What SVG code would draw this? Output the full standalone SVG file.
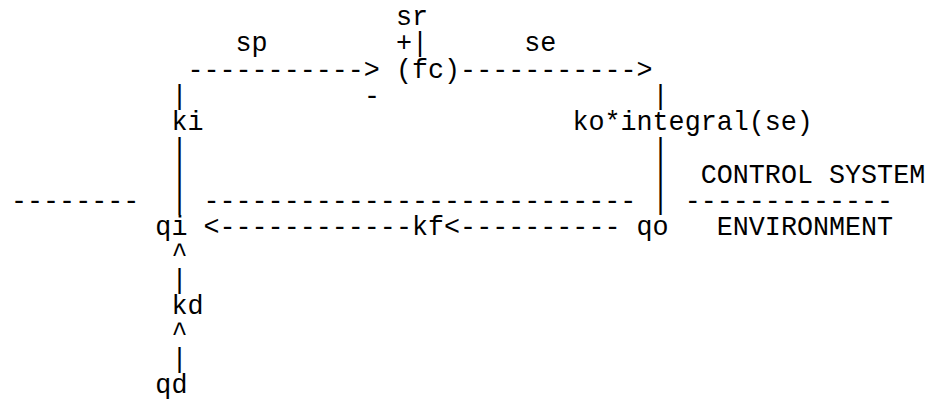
<svg xmlns="http://www.w3.org/2000/svg" width="926" height="402" viewBox="0 0 926 402">
  <style>
    text { font-family: "Liberation Mono", "Courier New", monospace; font-size: 26.73px; fill: #000; white-space: pre; }
  </style>
  <rect width="926" height="402" fill="#fff"/>

  <!-- connectors: character-drawn lines and arrows (column pitch 16.04px, row pitch 26.3px) -->
  <g id="connectors">
    <text x="395.96" y="51.3">+</text>
    <text x="412.00" y="51.3">|</text>
    <text x="187.44" y="77.6">-----------&gt;</text>
    <text x="460.12" y="77.6">-----------&gt;</text>
    <text x="171.40" y="103.9">|</text>
    <text x="363.88" y="103.9">-</text>
    <text x="652.60" y="103.9">|</text>
    <text x="171.40" y="156.5">|</text>
    <text x="652.60" y="156.5">|</text>
    <text x="171.40" y="182.8">|</text>
    <text x="652.60" y="182.8">|</text>
    <text x="11.00" y="209.1">--------</text>
    <text x="171.40" y="209.1">|</text>
    <text x="203.48" y="209.1">---------------------------</text>
    <text x="652.60" y="209.1">|</text>
    <text x="684.68" y="209.1">-------------</text>
    <text x="203.48" y="235.4">&lt;------------</text>
    <text x="444.08" y="235.4">&lt;----------</text>
    <text x="171.40" y="261.7">^</text>
    <text x="171.40" y="288.0">|</text>
    <text x="171.40" y="340.6">^</text>
    <text x="171.40" y="366.9">|</text>
  </g>

  <!-- nodes -->
  <g id="sr"><text x="395.96" y="25.0">sr</text></g>
  <g id="sp"><text x="235.56" y="51.3">sp</text></g>
  <g id="se"><text x="524.28" y="51.3">se</text></g>
  <g id="fc"><text x="395.96" y="77.6">(fc)</text></g>
  <g id="ki"><text x="171.40" y="130.2">ki</text></g>
  <g id="ko"><text x="572.40" y="130.2">ko*integral(se)</text></g>
  <g id="control-system"><text x="700.72" y="182.8">CONTROL SYSTEM</text></g>
  <g id="qi"><text x="155.36" y="235.4">qi</text></g>
  <g id="kf"><text x="412.00" y="235.4">kf</text></g>
  <g id="qo"><text x="636.56" y="235.4">qo</text></g>
  <g id="environment"><text x="716.76" y="235.4">ENVIRONMENT</text></g>
  <g id="kd"><text x="171.40" y="314.3">kd</text></g>
  <g id="qd"><text x="155.36" y="393.2">qd</text></g>
</svg>
